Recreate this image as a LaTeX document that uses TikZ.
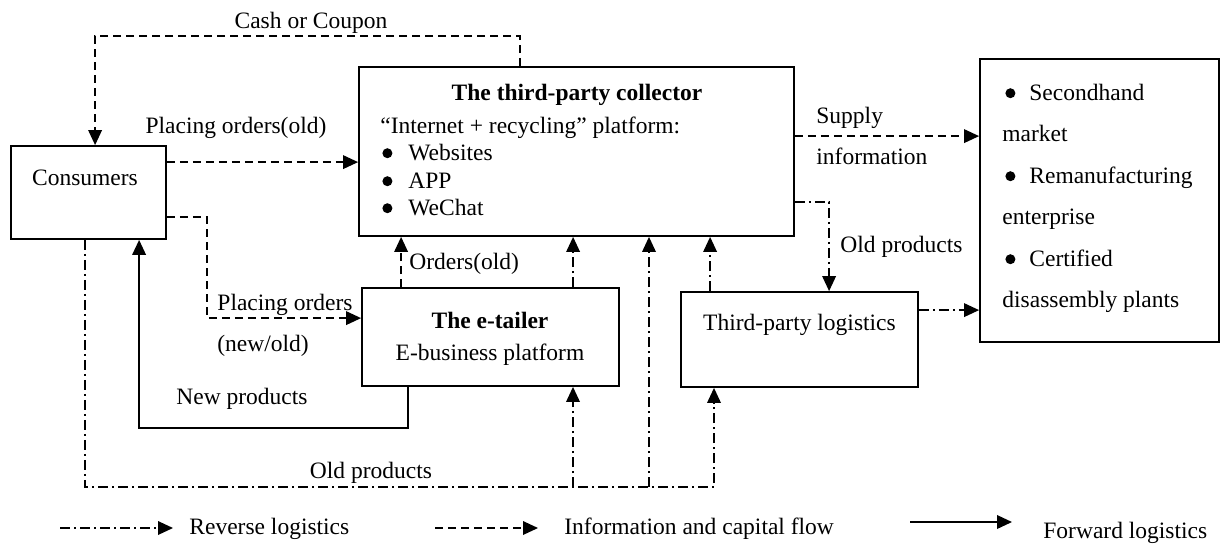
\documentclass[tikz,border=0pt]{standalone}
\usepackage{fontspec}
\setmainfont{Liberation Serif}
\usetikzlibrary{arrows.meta,calc,fit}
\newcommand{\bul}{\tikz[baseline=0pt]\fill (2.5pt,3.4pt) circle (2.5pt);}
\begin{document}
\begin{tikzpicture}[x=0.5pt,y=-0.5pt, font=\fontsize{11.75}{14}\selectfont,
 box/.style={draw, line width=0.9pt, inner sep=0pt},
 tip/.style={-{Triangle[length=7.5pt,width=6.8pt]}},
 info/.style={line width=0.75pt, dash pattern=on 4pt off 2.5pt, tip},
 rev/.style={line width=0.75pt, dash pattern=on 5pt off 2pt on 1pt off 2pt, tip},
 fwd/.style={line width=0.85pt, tip},
 lab/.style={inner sep=0pt, anchor=base},
 labw/.style={inner sep=0pt, anchor=base west}]
\useasboundingbox (0,0) rectangle (1226,543);

% boxes
\node[box, fit={(11,146) (166,239)}] (cons) {};
\node[box, fit={(359,67) (794,236)}] (coll) {};
\node[box, fit={(362,288) (619,386)}] (etl) {};
\node[box, fit={(681,292) (918,387)}] (logi) {};
\node[box, fit={(980,59) (1219,342)}] (rbox) {};

% box texts
\node[lab] (consT) at (85,185) {Consumers};
\node[lab] (collT) at (577,100) {\textbf{The third-party collector}};
\node[labw] (collP) at (380,133) {“Internet + recycling” platform:};
\node[labw] (w1) at (382,160) {\bul\hspace{8pt}Websites};
\node[labw] (w2) at (382,188) {\bul\hspace{8pt}APP};
\node[labw] (w3) at (382,215) {\bul\hspace{8pt}WeChat};
\node[lab] (etlT) at (490,328) {\textbf{The e-tailer}};
\node[lab] (etlS) at (490,360) {E-business platform};
\node[lab] (logiT) at (799.5,330) {Third-party logistics};
\node[labw] (r1) at (1005,100) {\bul\hspace{7pt}Secondhand};
\node[labw] (r2) at (1002,141) {market};
\node[labw] (r3) at (1005,183) {\bul\hspace{7pt}Remanufacturing};
\node[labw] (r4) at (1002,224) {enterprise};
\node[labw] (r5) at (1005,266) {\bul\hspace{7pt}Certified};
\node[labw] (r6) at (1002,307) {disassembly plants};

% cash or coupon
\draw[info] ($(coll.north west)+(162,0)$) -- ++(0,-30) -| ($(cons.north west)+(85,0)$);
\node[lab] (cashL) at (311,28) {Cash or Coupon};

% placing orders (old)
\coordinate (p1) at ($(cons.north east)+(0,17)$);
\draw[info] (p1) -- (p1 -| coll.west);
\node[lab] (poL) at (236,133) {Placing orders(old)};

% placing orders new/old
\coordinate (p2) at ($(cons.north east)+(0,72)$);
\coordinate (p3) at ($(etl.north west)+(0,31)$);
\draw[info] (p2) -- ++(40,0) |- (p3);
\node[lab] (po2L) at (285,310) {Placing orders};
\node[lab] (po3L) at (263,351) {(new/old)};

% new products
\draw[fwd] ($(etl.south west)+(47,0)$) -- ++(0,41) -| ($(cons.south west)+(129,0)$);
\node[lab] (npL) at (242,404) {New products};

% old products (bottom)
\coordinate (q0) at ($(cons.south west)+(75,0)$);
\coordinate (qb) at (714,487);
\draw[rev] (q0) |- (qb) -- (qb |- logi.south);
\coordinate (b1) at (573,487);
\draw[rev] (b1) -- (b1 |- etl.south);
\coordinate (b2) at (649,487);
\draw[rev] (b2) -- (b2 |- coll.south);
\node[lab] (opL) at (371,478) {Old products};

% orders(old)
\coordinate (o1) at ($(etl.north west)+(40,0)$);
\draw[info] (o1) -- (o1 |- coll.south);
\node[labw] (ooL) at (409,269) {Orders(old)};

% e-tailer -> collector
\coordinate (o2) at ($(etl.north west)+(212,0)$);
\draw[rev] (o2) -- (o2 |- coll.south);

% logistics -> collector
\coordinate (o3) at ($(logi.north west)+(30,0)$);
\draw[rev] (o3) -- (o3 |- coll.south);

% collector -> logistics
\coordinate (o4) at ($(coll.north east)+(0,136)$);
\draw[rev] (o4) -| ($(logi.north west)+(149,0)$);
\node[labw] (op2L) at (840,252) {Old products};

% supply information
\coordinate (o5) at ($(coll.north east)+(0,70)$);
\draw[info] (o5) -- (o5 -| rbox.west);
\node[labw] (siL1) at (816,123) {Supply};
\node[labw] (siL2) at (816,164) {information};

% logistics -> right box
\coordinate (o6) at ($(logi.north east)+(0,19)$);
\draw[rev] (o6) -- (o6 -| rbox.west);

% legend
\coordinate (l1) at (60,528);
\draw[rev] (l1) -- ++(113,0);
\node[labw] (l1T) at (189,534) {Reverse logistics};
\coordinate (l2) at (435,528);
\draw[info] (l2) -- ++(103,0);
\node[labw] (l2T) at (564,534) {Information and capital flow};
\coordinate (l3) at (910,522);
\draw[fwd] (l3) -- ++(102,0);
\node[labw] (l3T) at (1043,538) {Forward logistics};
\end{tikzpicture}
\end{document}
